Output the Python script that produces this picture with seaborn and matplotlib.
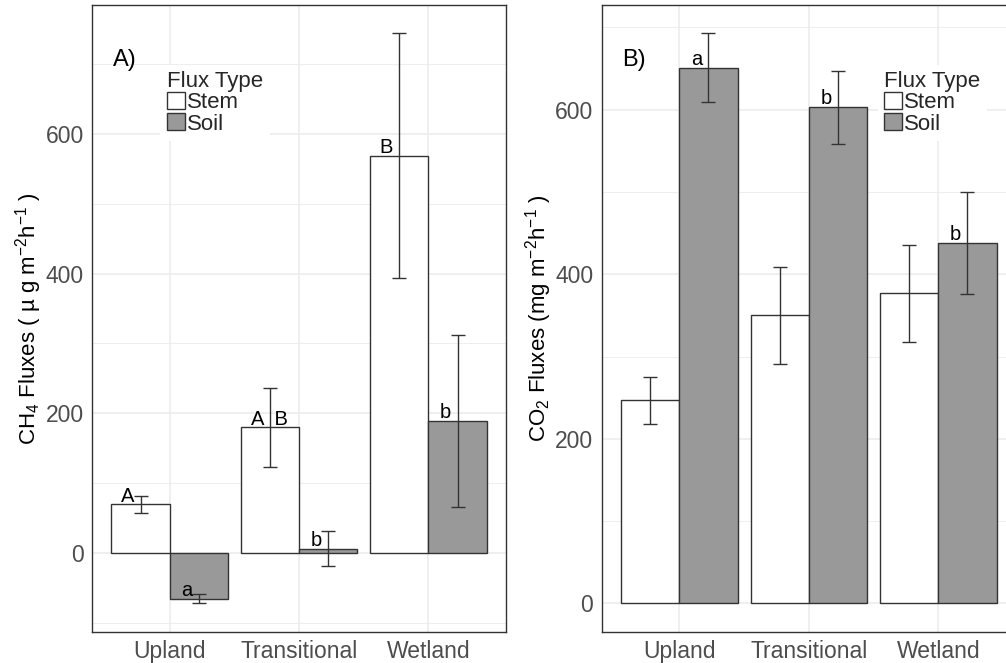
import matplotlib
matplotlib.use('Agg')
import matplotlib.pyplot as plt
from matplotlib.patches import Patch
import pandas as pd
import seaborn as sns

SITES = ['Upland', 'Transitional', 'Wetland']
FLUX_TYPES = ['Stem', 'Soil']

# CH4 panel (A)
CH4_STEM = [70, 180, 568]
CH4_STEM_SE = [12, 56, 175]
CH4_SOIL = [-65, 7, 189]
CH4_SOIL_SE = [6.5, 25, 123]
CH4_STEM_LETTERS = ['A', 'A  B', 'B']
CH4_SOIL_LETTERS = ['a', 'b', 'b']

# CO2 panel (B)
CO2_STEM = [247, 350, 377]
CO2_STEM_SE = [28.5, 58.5, 59]
CO2_SOIL = [651, 603, 438]
CO2_SOIL_SE = [41.5, 44.5, 61.5]
CO2_STEM_LETTERS = ['', '', '']
CO2_SOIL_LETTERS = ['a', 'b', 'b']

COLORS = {'Stem': 'white', 'Soil': '#999999'}
EDGE = '#333333'


def make_table(stem, stem_se, soil, soil_se, stem_let, soil_let):
    rows = []
    for i, site in enumerate(SITES):
        rows.append([site, 'Stem', stem[i], stem_se[i], stem_let[i]])
        rows.append([site, 'Soil', soil[i], soil_se[i], soil_let[i]])
    return pd.DataFrame(rows, columns=['site', 'flux', 'mean', 'se', 'letter'])


def draw_panel(ax, df, tag, ylabel, legend_x):
    sns.barplot(data=df, x='site', y='mean', hue='flux', order=SITES,
                hue_order=FLUX_TYPES, palette=COLORS, width=0.9,
                edgecolor=EDGE, linewidth=1, errorbar=None, legend=False,
                ax=ax)

    # error bars and letters at the centre of each bar
    for flux, bars in zip(FLUX_TYPES, ax.containers):
        sub = df[df.flux == flux].set_index('site').loc[SITES]
        xs = [b.get_x() + b.get_width() / 2 for b in bars]
        ax.errorbar(xs, sub['mean'], yerr=sub['se'], fmt='none',
                    ecolor=EDGE, elinewidth=1, capsize=4.7, capthick=1,
                    zorder=4)
        for x, m, let in zip(xs, sub['mean'], sub['letter']):
            if not let:
                continue
            if ' ' in let:
                ha, dx = 'center', 0
            else:
                ha, dx = 'right', -0.05
            ax.annotate(let, (x + dx, m), xytext=(0, 2),
                        textcoords='offset points', ha=ha, va='baseline',
                        fontsize=14.5, color='black', zorder=5)

    lo = min(0, (df['mean'] - df['se']).min())
    hi = (df['mean'] + df['se']).max()
    pad = (hi - lo) * 0.05
    ax.set_ylim(lo - pad, hi + pad)
    ax.set_xlim(-0.6, 2.6)
    ax.set_yticks([0, 200, 400, 600])
    ax.set_yticks([v for v in range(-100, 800, 200) if lo - pad < v < hi + pad],
                  minor=True)

    ax.grid(which='major', color='#EBEBEB', lw=1.1)
    ax.grid(which='minor', axis='y', color='#EBEBEB', lw=0.6)
    ax.set_axisbelow(True)
    for s in ax.spines.values():
        s.set_color(EDGE)
        s.set_linewidth(1)
    ax.tick_params(axis='both', which='major', length=4, width=1,
                   color=EDGE, labelcolor='#4D4D4D', labelsize=16.5, pad=2)
    ax.tick_params(which='minor', length=0)

    ax.set_xlabel('')
    ax.set_ylabel(ylabel, fontsize=16, color='black', labelpad=1)
    ax.text(0.05, 0.912, tag, transform=ax.transAxes, ha='left',
            va='center', fontsize=17, color='black')

    handles = [Patch(facecolor=COLORS[f], edgecolor=EDGE, linewidth=1,
                     label=f) for f in FLUX_TYPES]
    leg = ax.legend(handles=handles, title='Flux Type', loc='upper left',
                    bbox_to_anchor=(legend_x, 0.905), fontsize=16,
                    title_fontsize=16, handlelength=0.8, handleheight=0.8,
                    handletextpad=0.1, labelspacing=0.0, borderpad=0.3,
                    borderaxespad=0, frameon=True, fancybox=False,
                    framealpha=1, alignment='left')
    leg.get_frame().set_facecolor('white')
    leg.get_frame().set_edgecolor('none')


sns.set_style('white')
plt.rcParams['font.family'] = ['Liberation Sans', 'DejaVu Sans']
plt.rcParams['mathtext.fontset'] = 'custom'
plt.rcParams['mathtext.rm'] = 'Liberation Sans'
plt.rcParams['mathtext.it'] = 'Liberation Sans:italic'

ch4 = make_table(CH4_STEM, CH4_STEM_SE, CH4_SOIL, CH4_SOIL_SE,
                 CH4_STEM_LETTERS, CH4_SOIL_LETTERS)
co2 = make_table(CO2_STEM, CO2_STEM_SE, CO2_SOIL, CO2_SOIL_SE,
                 CO2_STEM_LETTERS, CO2_SOIL_LETTERS)

fig = plt.figure(figsize=(10.06, 6.63), dpi=100)
ax1 = fig.add_axes([0.0915, 0.0468, 0.4115, 0.9457])
ax2 = fig.add_axes([0.598, 0.0468, 0.412, 0.9457])

draw_panel(ax1, ch4, 'A)', r'CH$_4$ Fluxes ( µ g m$^{-2}$h$^{-1}$ )', 0.165)
draw_panel(ax2, co2, 'B)', r'CO$_2$ Fluxes (mg m$^{-2}$h$^{-1}$ )', 0.666)

fig.savefig('out.png', dpi=100)
